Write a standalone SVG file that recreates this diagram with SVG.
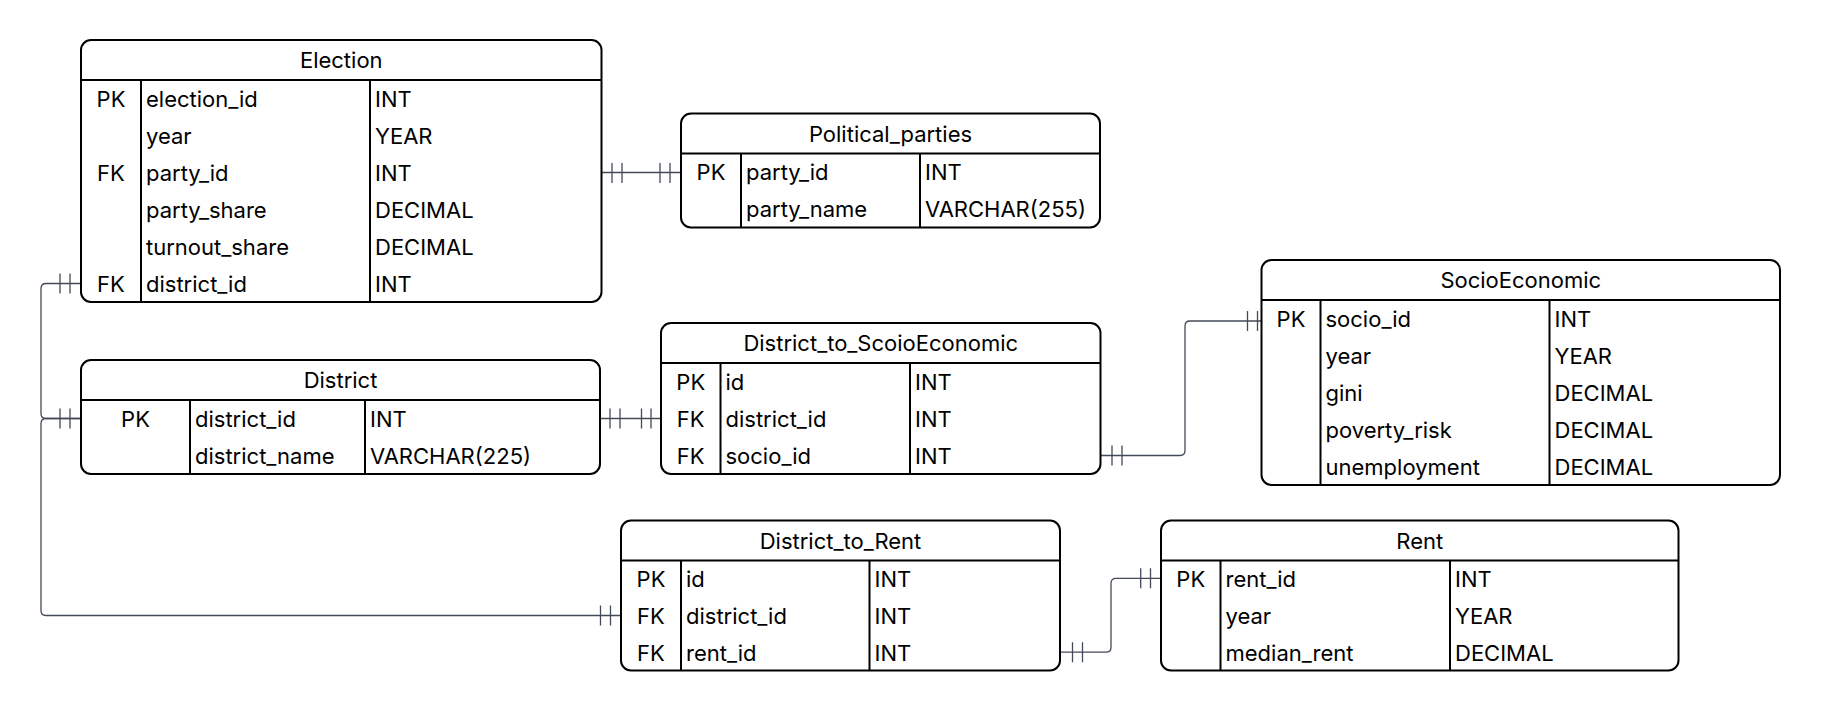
<svg xmlns="http://www.w3.org/2000/svg" width="1821" height="711" viewBox="0 0 1821 711">
<style>
.box{fill:#fff;stroke:#000;stroke-width:2}
.sep{stroke:#000;stroke-width:2;fill:none}
.t{font-family:Inter,"Noto Sans","Liberation Sans",sans-serif;font-size:22px;fill:#000}
.m{text-anchor:middle}
.c{fill:none;stroke:#434a57;stroke-width:1.3}
</style>
<rect width="1821" height="711" fill="#fff"/>
<g id="connectors">
  <path class="c" d="M601.5,172.5 H681 M612,163 V183 M622,163 V183 M660,163 V183 M670,163 V183"/>
  <path class="c" d="M81,283.5 H46 Q41,283.5 41,288.5 V413.5 Q41,418.5 46,418.5 H81 M60,273.5 V293.5 M70,273.5 V293.5 M60,408.5 V428.5 M70,408.5 V428.5"/>
  <path class="c" d="M81,418.5 H46 Q41,418.5 41,423.5 V610.5 Q41,615.5 46,615.5 H621 M600.5,605.5 V625.5 M610.5,605.5 V625.5"/>
  <path class="c" d="M600,418.5 H661 M610,408.5 V428.5 M620,408.5 V428.5 M641.5,408.5 V428.5 M651,408.5 V428.5"/>
  <path class="c" d="M1100.5,455.5 H1180 Q1185,455.5 1185,450.5 V326 Q1185,321 1190,321 H1261.5 M1112,445.5 V465.5 M1122,445.5 V465.5 M1247.5,311 V331 M1257.5,311 V331"/>
  <path class="c" d="M1060,652.2 H1106 Q1111,652.2 1111,647.2 V583.3 Q1111,578.3 1116,578.3 H1161 M1072.5,642.2 V662.2 M1082.5,642.2 V662.2 M1140.7,568.3 V588.3 M1150.5,568.3 V588.3"/>
</g>
<g id="election">
  <rect class="box" x="81" y="40" width="520.5" height="262" rx="10"/>
  <path class="sep" d="M81,80 H601.5 M141,80 V302 M370,80 V302"/>
  <text class="t m" x="341.25" y="68">Election</text>
  <text class="t m" x="111" y="106.5">PK</text>
  <text class="t m" x="111" y="180.5">FK</text>
  <text class="t m" x="111" y="291.5">FK</text>
  <text class="t" x="146" y="106.5">election_id</text>
  <text class="t" x="146" y="143.5">year</text>
  <text class="t" x="146" y="180.5">party_id</text>
  <text class="t" x="146" y="217.5">party_share</text>
  <text class="t" x="146" y="254.5">turnout_share</text>
  <text class="t" x="146" y="291.5">district_id</text>
  <text class="t" x="375" y="106.5">INT</text>
  <text class="t" x="375" y="143.5">YEAR</text>
  <text class="t" x="375" y="180.5">INT</text>
  <text class="t" x="375" y="217.5">DECIMAL</text>
  <text class="t" x="375" y="254.5">DECIMAL</text>
  <text class="t" x="375" y="291.5">INT</text>
</g>
<g id="political_parties">
  <rect class="box" x="681" y="113.5" width="419" height="114" rx="10"/>
  <path class="sep" d="M681,153.5 H1100 M741,153.5 V227.5 M920,153.5 V227.5"/>
  <text class="t m" x="890.5" y="141.5">Political_parties</text>
  <text class="t m" x="711" y="180">PK</text>
  <text class="t" x="746" y="180">party_id</text>
  <text class="t" x="746" y="217">party_name</text>
  <text class="t" x="925" y="180">INT</text>
  <text class="t" x="925" y="217">VARCHAR(255)</text>
</g>
<g id="district">
  <rect class="box" x="81" y="360" width="519" height="114" rx="10"/>
  <path class="sep" d="M81,400 H600 M190,400 V474 M365,400 V474"/>
  <text class="t m" x="340.5" y="388">District</text>
  <text class="t m" x="135.5" y="426.5">PK</text>
  <text class="t" x="195" y="426.5">district_id</text>
  <text class="t" x="195" y="463.5">district_name</text>
  <text class="t" x="370" y="426.5">INT</text>
  <text class="t" x="370" y="463.5">VARCHAR(225)</text>
</g>
<g id="district_to_socioeconomic">
  <rect class="box" x="661" y="323" width="439.5" height="151" rx="10"/>
  <path class="sep" d="M661,363 H1100.5 M720.5,363 V474 M910,363 V474"/>
  <text class="t m" x="880.75" y="351">District_to_ScoioEconomic</text>
  <text class="t m" x="690.75" y="389.5">PK</text>
  <text class="t m" x="690.75" y="426.5">FK</text>
  <text class="t m" x="690.75" y="463.5">FK</text>
  <text class="t" x="725.5" y="389.5">id</text>
  <text class="t" x="725.5" y="426.5">district_id</text>
  <text class="t" x="725.5" y="463.5">socio_id</text>
  <text class="t" x="915" y="389.5">INT</text>
  <text class="t" x="915" y="426.5">INT</text>
  <text class="t" x="915" y="463.5">INT</text>
</g>
<g id="socioeconomic">
  <rect class="box" x="1261.5" y="260" width="518.5" height="225" rx="10"/>
  <path class="sep" d="M1261.5,300 H1780 M1320.5,300 V485 M1549.5,300 V485"/>
  <text class="t m" x="1520.75" y="288">SocioEconomic</text>
  <text class="t m" x="1291" y="326.5">PK</text>
  <text class="t" x="1325.5" y="326.5">socio_id</text>
  <text class="t" x="1325.5" y="363.5">year</text>
  <text class="t" x="1325.5" y="400.5">gini</text>
  <text class="t" x="1325.5" y="437.5">poverty_risk</text>
  <text class="t" x="1325.5" y="474.5">unemployment</text>
  <text class="t" x="1554.5" y="326.5">INT</text>
  <text class="t" x="1554.5" y="363.5">YEAR</text>
  <text class="t" x="1554.5" y="400.5">DECIMAL</text>
  <text class="t" x="1554.5" y="437.5">DECIMAL</text>
  <text class="t" x="1554.5" y="474.5">DECIMAL</text>
</g>
<g id="district_to_rent">
  <rect class="box" x="621" y="520.5" width="439" height="150" rx="10"/>
  <path class="sep" d="M621,560.5 H1060 M681,560.5 V670.5 M869.5,560.5 V670.5"/>
  <text class="t m" x="840.5" y="548.5">District_to_Rent</text>
  <text class="t m" x="651" y="587">PK</text>
  <text class="t m" x="651" y="623.5">FK</text>
  <text class="t m" x="651" y="660.5">FK</text>
  <text class="t" x="686" y="587">id</text>
  <text class="t" x="686" y="623.5">district_id</text>
  <text class="t" x="686" y="660.5">rent_id</text>
  <text class="t" x="874.5" y="587">INT</text>
  <text class="t" x="874.5" y="623.5">INT</text>
  <text class="t" x="874.5" y="660.5">INT</text>
</g>
<g id="rent">
  <rect class="box" x="1161" y="520.5" width="517.5" height="150" rx="10"/>
  <path class="sep" d="M1161,560.5 H1678.5 M1220.5,560.5 V670.5 M1450,560.5 V670.5"/>
  <text class="t m" x="1419.75" y="548.5">Rent</text>
  <text class="t m" x="1190.75" y="587">PK</text>
  <text class="t" x="1225.5" y="587">rent_id</text>
  <text class="t" x="1225.5" y="623.5">year</text>
  <text class="t" x="1225.5" y="660.5">median_rent</text>
  <text class="t" x="1455" y="587">INT</text>
  <text class="t" x="1455" y="623.5">YEAR</text>
  <text class="t" x="1455" y="660.5">DECIMAL</text>
</g>
</svg>
